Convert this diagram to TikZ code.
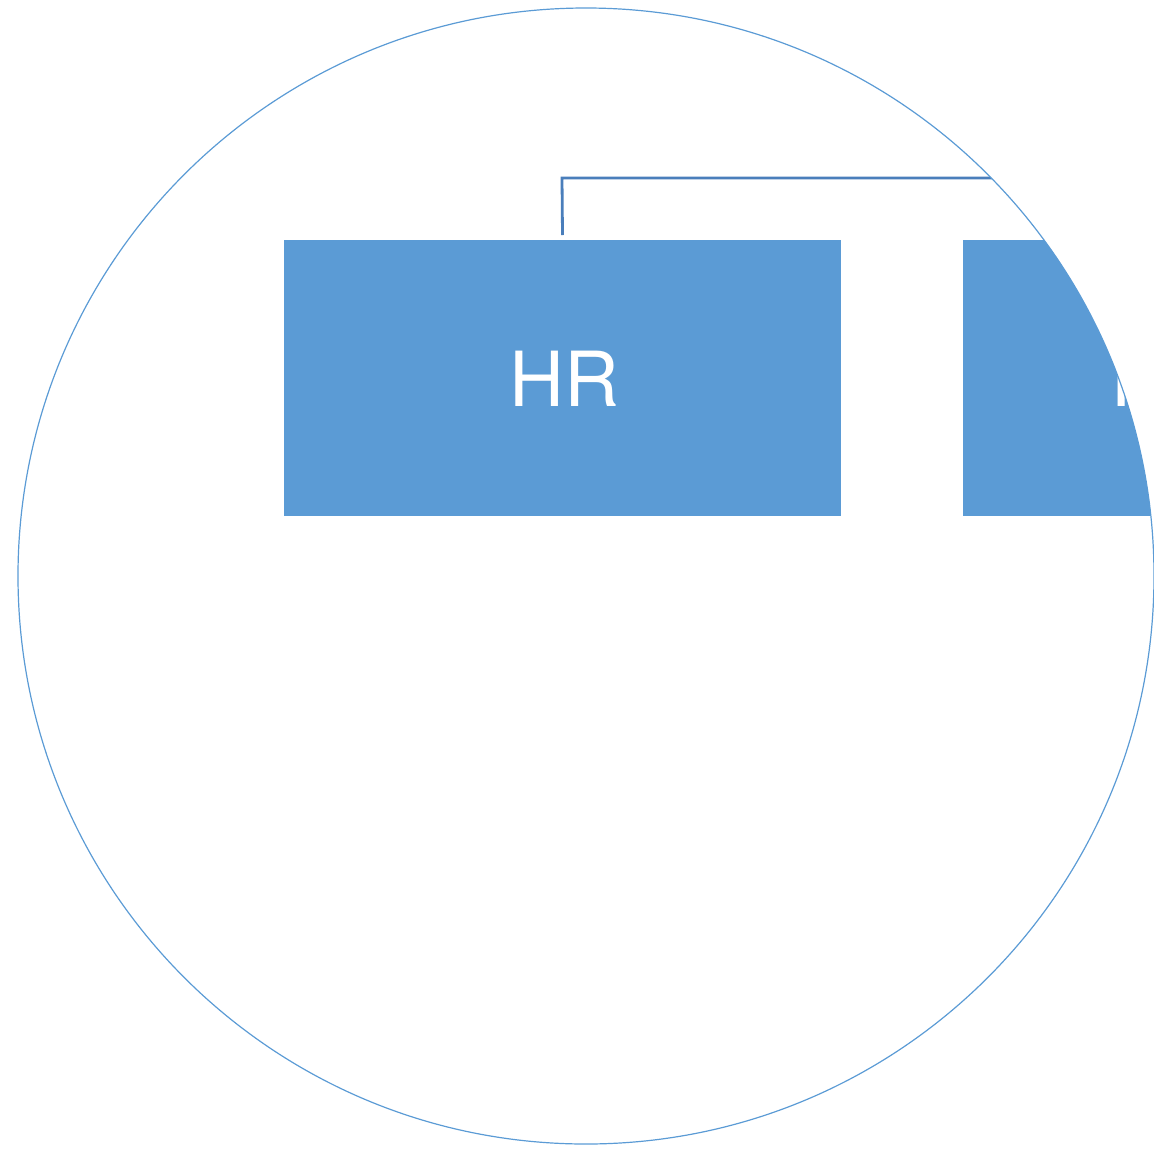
\documentclass[tikz,border=0pt]{standalone}
\usepackage{fontspec}
\setmainfont{TeX Gyre Heros}
\definecolor{boxblue}{HTML}{5B9BD5}
\definecolor{linkblue}{HTML}{4A7EBB}
\begin{document}
\begin{tikzpicture}[x=1pt,y=-1pt,
  unitbox/.style={fill=boxblue,draw=none,minimum width=557pt,minimum height=276pt,inner sep=0pt,outer sep=0pt},
  unitlabel/.style={text=white,font=\fontsize{76}{76}\selectfont,inner sep=0pt},
  link/.style={draw=linkblue,line width=2.8pt}]
\useasboundingbox (0,0) rectangle (1154,1152);
\begin{scope}
\clip (586,576) circle[radius=568];
\node[unitbox] (hr) at (562.5,378) {};
\node[unitlabel] (hrt) at (564,379) {HR};
\node[unitbox] (it) at (1241.5,378) {};
\node[unitlabel,anchor=base west] (itt) at (1110,406) {IT};
\coordinate (bend) at (562,178);
\coordinate (farend) at (1300,178);
\draw[link] ([yshift=5pt]hr.north) -- (bend) -- (farend);
\end{scope}
\draw[boxblue,line width=1.2pt] (586,576) circle[radius=568];
\end{tikzpicture}
\end{document}
